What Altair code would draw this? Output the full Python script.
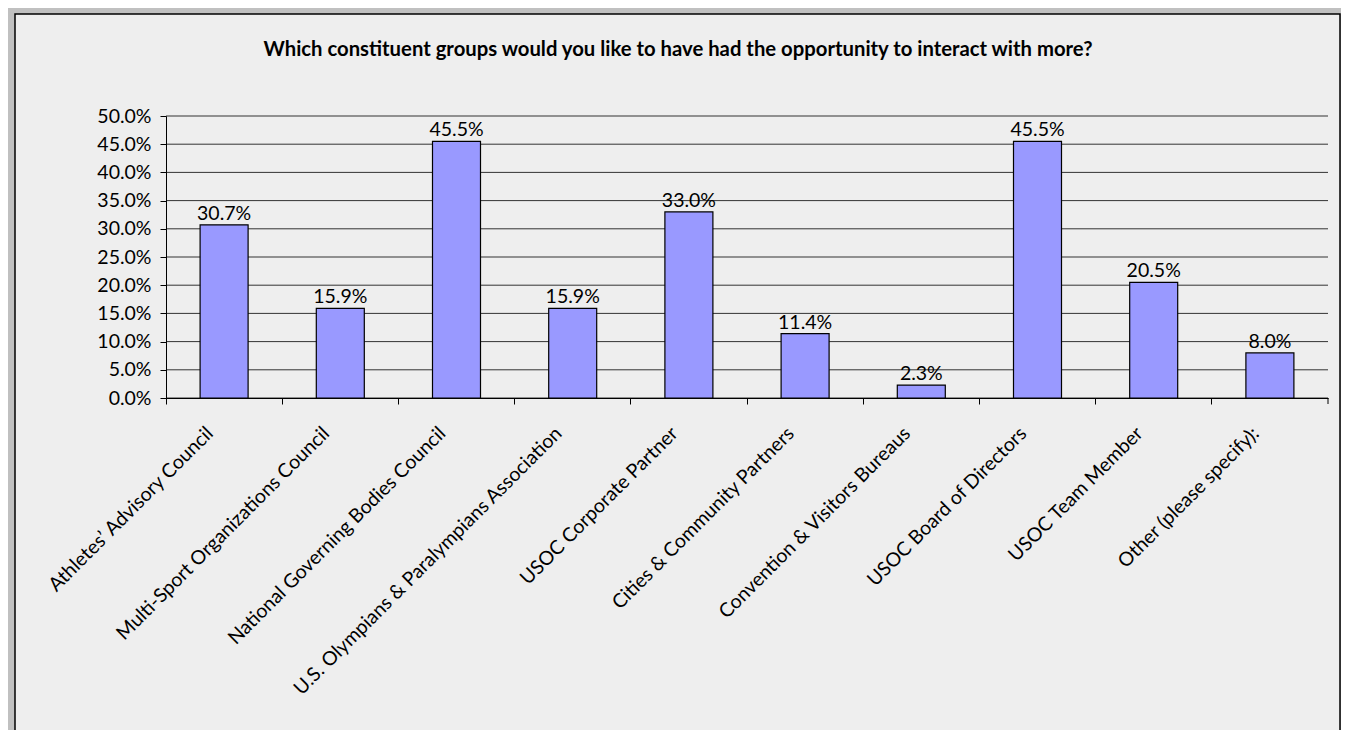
import altair as alt
import pandas as pd

categories = [
    "Athletes’ Advisory Council",
    "Multi-Sport Organizations Council",
    "National Governing Bodies Council",
    "U.S. Olympians & Paralympians Association",
    "USOC Corporate Partner",
    "Cities & Community Partners",
    "Convention & Visitors Bureaus",
    "USOC Board of Directors",
    "USOC Team Member",
    "Other (please specify):",
]
values = [0.307, 0.159, 0.455, 0.159, 0.330, 0.114, 0.023, 0.455, 0.205, 0.080]
y_ticks = [0.0, 0.05, 0.10, 0.15, 0.20, 0.25, 0.30, 0.35, 0.40, 0.45, 0.50]
title_text = "Which constituent groups would you like to have had the opportunity to interact with more?"

W, H = 1162, 282
FONT = "Lato"
FS = 19.5

df = pd.DataFrame({"cat": categories, "v": values})
grid_df = pd.DataFrame({"v": y_ticks})
one = pd.DataFrame({"t": [title_text]})

yscale = alt.Scale(domain=[0, 0.5], nice=False, zero=True)
xscale = alt.Scale(paddingInner=0, paddingOuter=0)

yaxis = alt.Axis(
    title=None,
    values=y_ticks,
    tickCount=len(y_ticks),
    format=".1%",
    grid=False,
    labelFontSize=FS,
    labelColor="#000000",
    labelPadding=9,
    labelOverlap=False,
    labelFlush=False,
    tickSize=6,
    tickColor="#000000",
    domainColor="#000000",
    labelFont=FONT,
    zindex=1,
)

frame = alt.Chart(one).mark_rect(
    fill="#eeeeee", stroke="#000000", strokeWidth=1.5
).encode(
    x=alt.value(-151), x2=alt.value(1174), y=alt.value(-102), y2=alt.value(640)
)

title = alt.Chart(one).mark_text(
    font=FONT, fontSize=20.3, fontWeight="bold", color="#000000",
    align="center", baseline="alphabetic"
).encode(x=alt.value(512), y=alt.value(-60), text="t:N")

grid = alt.Chart(grid_df).mark_rule(color="#333333", strokeWidth=1).encode(
    y=alt.Y("v:Q", scale=yscale, axis=yaxis),
    x=alt.value(0),
    x2=alt.value(W),
)

end_tick = alt.Chart(one).mark_rule(color="#000000", strokeWidth=1).encode(
    x=alt.value(W), y=alt.value(H), y2=alt.value(H + 6)
)

xenc = alt.X(
    "cat:N",
    sort=categories,
    scale=xscale,
    axis=alt.Axis(
        title=None,
        labelAngle=-45,
        labelAlign="right",
        labelBaseline="middle",
        labelFontSize=FS,
        labelColor="#000000",
        labelPadding=26,
        labelOffset=-14,
        labelOverlap=False,
        bandPosition=0,
        tickSize=6,
        tickColor="#000000",
        domainColor="#000000",
        labelLimit=0,
        labelFont=FONT,
        zindex=1,
    ),
)

bars = alt.Chart(df).mark_bar(
    color="#9999ff", stroke="#000000", strokeWidth=1.2, width=48
).encode(x=xenc, y=alt.Y("v:Q", scale=yscale))

labels = alt.Chart(df).mark_text(
    baseline="alphabetic", dy=-5, fontSize=FS, font=FONT, color="#000000"
).encode(
    x=alt.X("cat:N", sort=categories, scale=xscale),
    y=alt.Y("v:Q", scale=yscale),
    text=alt.Text("v:Q", format=".1%"),
)

chart = alt.layer(frame, title, grid, bars, labels, end_tick).properties(
    width=W,
    height=H,
    background="#c0c0c0",
    padding={"left": 158, "top": 108, "right": 13, "bottom": 332},
    autosize=alt.AutoSizeParams(type="none"),
).configure_view(stroke=None).configure_axis(labelOverlap=False)

chart.save("out.html", embed_options={"renderer": "svg", "actions": False})
